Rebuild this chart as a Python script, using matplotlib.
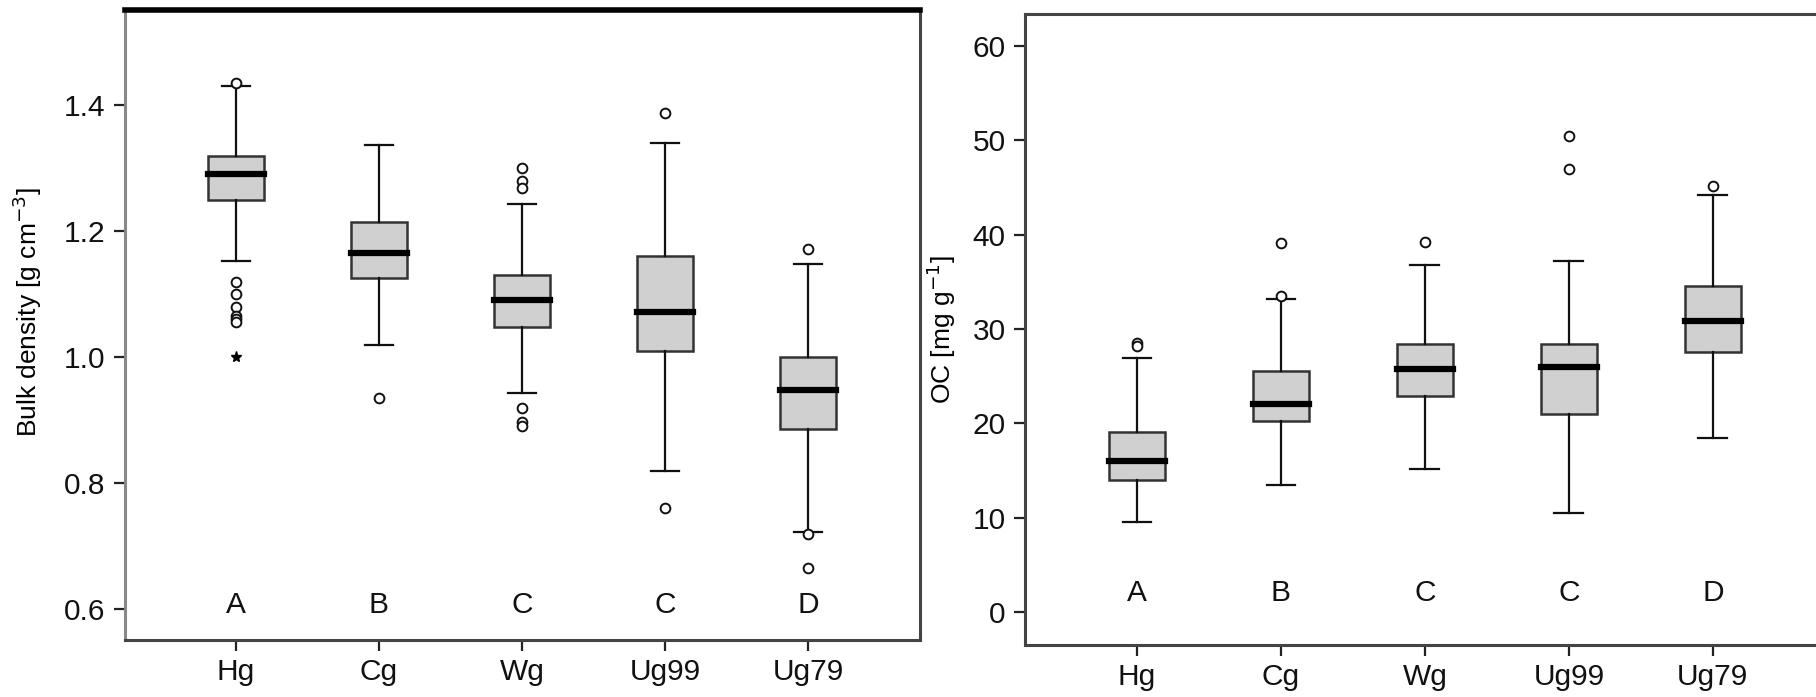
import matplotlib
matplotlib.use("Agg")
import matplotlib.pyplot as plt

plt.rcParams['font.family'] = ['Liberation Sans', 'DejaVu Sans']

# Land-use groups
groups = ["Hg", "Cg", "Wg", "Ug99", "Ug79"]
letters_bd = ["A", "B", "C", "C", "D"]
letters_oc = ["A", "B", "C", "C", "D"]

# Bulk density [g cm-3] box statistics
bd_whislo = [1.153, 1.020, 0.943, 0.820, 0.723]
bd_q1 = [1.250, 1.125, 1.048, 1.010, 0.886]
bd_med = [1.290, 1.165, 1.090, 1.072, 0.948]
bd_q3 = [1.320, 1.215, 1.130, 1.160, 1.000]
bd_whishi = [1.430, 1.337, 1.243, 1.340, 1.148]
bd_fliers = [
    [1.435, 1.120, 1.100, 1.080, 1.065, 1.060, 1.055],
    [0.935],
    [1.300, 1.280, 1.268, 0.920, 0.897, 0.890],
    [1.387, 0.760],
    [1.172, 0.720, 0.665],
]
bd_extreme = [1.000, None, None, None, None]  # star = extreme value

# Organic carbon [mg g-1] box statistics
oc_whislo = [9.5, 13.5, 15.2, 10.5, 18.4]
oc_q1 = [14.0, 20.3, 22.9, 21.0, 27.6]
oc_med = [16.0, 22.1, 25.8, 26.0, 30.8]
oc_q3 = [19.1, 25.5, 28.4, 28.4, 34.6]
oc_whishi = [26.9, 33.2, 36.8, 37.2, 44.2]
oc_fliers = [
    [28.5, 28.2],
    [39.1, 33.5],
    [39.2],
    [50.5, 47.0],
    [45.2],
]


def make_stats(lo, q1, med, q3, hi, fliers):
    stats = []
    for i in range(len(groups)):
        stats.append({"whislo": lo[i], "q1": q1[i], "med": med[i], "q3": q3[i],
                      "whishi": hi[i], "fliers": fliers[i], "label": groups[i]})
    return stats


def draw_panel(ax, stats, letters, letter_y, ylim, yticks, ytick_labels, ylabel):
    ax.bxp(stats, positions=range(1, 6), widths=0.39, patch_artist=True,
           showfliers=True,
           boxprops=dict(facecolor="#d0d0d0", edgecolor="#333333", linewidth=1.8),
           medianprops=dict(color="black", linewidth=4.5, solid_capstyle="projecting"),
           whiskerprops=dict(color="#111111", linewidth=1.6),
           capprops=dict(color="#111111", linewidth=1.6),
           capwidths=0.2,
           flierprops=dict(marker="o", markersize=7, markerfacecolor="white",
                           markeredgecolor="#111111", markeredgewidth=1.4,
                           linestyle="none"))
    for i, t in enumerate(letters):
        ax.text(i + 1, letter_y, t, ha="center", va="center", fontsize=21.5,
                color="#111111")
    ax.set_ylim(*ylim)
    ax.set_yticks(yticks)
    ax.set_yticklabels(ytick_labels)
    ax.set_xticks(range(1, 6))
    ax.set_xticklabels(groups)
    ax.set_ylabel(ylabel, fontsize=19)
    ax.tick_params(axis="both", direction="out", length=8, width=1.6,
                   labelsize=21.5, color="#222222", labelcolor="#111111")
    ax.tick_params(axis="x", pad=5)
    ax.tick_params(axis="y", pad=6)
    for s in ax.spines.values():
        s.set_linewidth(2.2)
        s.set_color("#444444")


fig = plt.figure(figsize=(18.16, 6.97), dpi=100)

ax1 = fig.add_axes([0.0688, 0.0818, 0.4378, 0.9039])
draw_panel(ax1, make_stats(bd_whislo, bd_q1, bd_med, bd_q3, bd_whishi, bd_fliers),
           letters_bd, 0.606, (0.551, 1.551), [0.6, 0.8, 1.0, 1.2, 1.4],
           ["0.6", "0.8", "1.0", "1.2", "1.4"], "Bulk density [g cm$^{-3}$]")
ax1.set_xlim(0.224, 5.783)
ax1.spines["top"].set_linewidth(4)
ax1.spines["top"].set_color("black")
ax1.spines["left"].set_color("#888888")
ax1.yaxis.set_label_coords(-0.102, 0.52)
for i, v in enumerate(bd_extreme):
    if v is not None:
        ax1.plot(i + 1, v, marker="*", color="black", markersize=8, linestyle="none")

ax2 = fig.add_axes([0.5644, 0.0746, 0.4422, 0.9053])
draw_panel(ax2, make_stats(oc_whislo, oc_q1, oc_med, oc_q3, oc_whishi, oc_fliers),
           letters_oc, 2.0, (-3.5, 63.4), [0, 10, 20, 30, 40, 50, 60],
           ["0", "10", "20", "30", "40", "50", "60"], "OC [mg g$^{-1}$]")
ax2.set_xlim(0.222, 5.8)
ax2.yaxis.set_label_coords(-0.083, 0.5)

fig.savefig("out.png", dpi=100)
